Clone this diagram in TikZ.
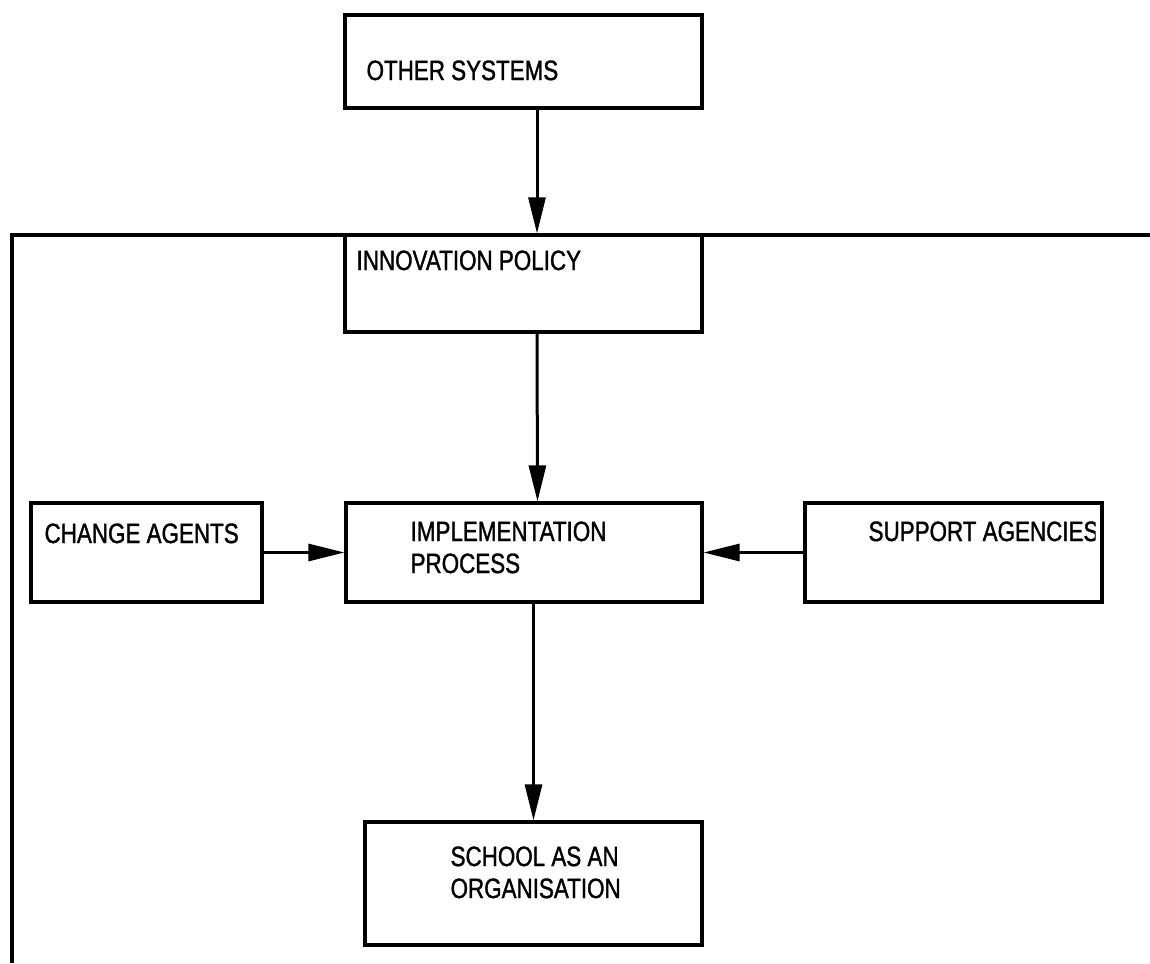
\documentclass[tikz,border=0pt]{standalone}
\usepackage{fontspec}
\usepackage{xcolor}
\usetikzlibrary{arrows.meta,positioning}
\newfontfamily\diagfont[FakeStretch=0.8,FakeBold=1.2]{Liberation Sans}

\begin{document}
\begin{tikzpicture}[x=1pt,y=-1pt]
    \tikzstyle{B}=[rectangle,draw,line width=3.2pt,inner sep=0pt]
    \tikzstyle{T}=[inner sep=0pt,align=left,font=\diagfont\fontsize{28}{32}\selectfont]
    \tikzstyle{A}=[line width=3pt,-{Triangle[length=36pt,width=17pt]}]

   \useasboundingbox (0,0) rectangle (1150,963);

   % outer frame
   \draw [line width=3.2pt] (12,963) -- (12,235) -- (1150,235);

   % boxes
   \node [B,minimum width=357pt,minimum height=93pt] (oth) at (523.5,61.5) {};
   \node [B,minimum width=357pt,minimum height=97pt] (inn) at (523.5,283.5) {};
   \node [B,minimum width=356pt,minimum height=99pt] (imp) at (524,552.5) {};
   \node [B,minimum width=231pt,minimum height=99pt] (chg) at (146.5,552.5) {};
   \node [B,minimum width=297pt,minimum height=99pt] (sup) at (953.5,552.5) {};
   \node [B,minimum width=337pt,minimum height=123pt] (sch) at (533.5,883.5) {};

   % texts
   \node [T,below right=57pt and 23pt of oth.north west,anchor=west] {OTHER SYSTEMS};
   \node [T,below right=27pt and 13pt of inn.north west,anchor=west] {INNOVATION POLICY};
   \node [T,below right=32pt and 15pt of chg.north west,anchor=west] {CHANGE AGENTS};
   \node [T,below right=46pt and 66pt of imp.north west,anchor=west] {IMPLEMENTATION\\PROCESS};
   \node [T,below right=52pt and 87pt of sch.north west,anchor=west] {SCHOOL AS AN\\ORGANISATION};
   \begin{scope}
     \clip (sup.north west) rectangle ([xshift=-8pt]sup.south east);
     \node [T,below right=30pt and 65pt of sup.north west,anchor=west] {SUPPORT AGENCIES};
   \end{scope}

   % arrows
   \draw [A] ([xshift=13.5pt]oth.south) -- ([xshift=13.5pt]inn.north);
   \draw [A] ([xshift=13.5pt]inn.south) -- ([xshift=13.5pt]imp.north);
   \draw [A] (chg.east) -- (imp.west);
   \draw [A] (sup.west) -- (imp.east);
   \draw [A] (imp.south -| sch.north) -- (sch.north);
\end{tikzpicture}
\end{document}
